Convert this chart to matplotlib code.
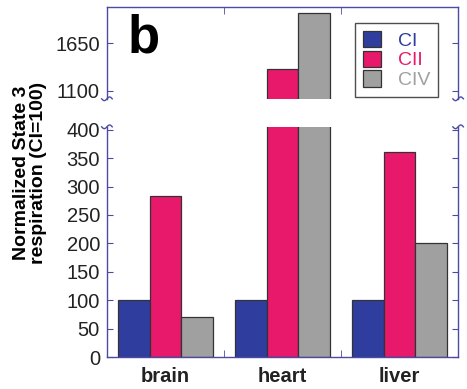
import numpy as np
import matplotlib
matplotlib.use("Agg")
import matplotlib.pyplot as plt

plt.rcParams['font.family'] = ['Liberation Sans', 'DejaVu Sans']

tissues = ['brain', 'heart', 'liver']
series = ['CI', 'CII', 'CIV']
ci = [100, 100, 100]
cii = [283, 1350, 360]
civ = [70, 2000, 200]
colors = ['#2f3e9e', '#e8196b', '#a0a0a0']
low_ticks = [0, 50, 100, 150, 200, 250, 300, 350, 400]
high_ticks = [1100, 1650]

spine_col = '#4b4ba6'

fig = plt.figure(figsize=(4.67, 3.89), dpi=100)
ax_lo = fig.add_axes([0.229, 0.082, 0.752, 0.592])
ax_hi = fig.add_axes([0.229, 0.746, 0.752, 0.236])

x = np.arange(len(tissues))
w = 0.27
for ax in (ax_lo, ax_hi):
    for i, (vals, c) in enumerate(zip([ci, cii, civ], colors)):
        ax.bar(x + (i - 1) * w, vals, w, color=c, edgecolor='#333333',
               linewidth=0.9, label=series[i])
    ax.set_xlim(-0.5, 2.5)
    for s in ax.spines.values():
        s.set_color(spine_col)
        s.set_linewidth(1.0)
    ax.tick_params(direction='in', length=4, color=spine_col, labelsize=14.5,
                   labelcolor='#222222', right=True, top=False, pad=5)
    ax.set_xticks([0.5, 1.5], minor=True)
    ax.tick_params(axis='x', which='minor', direction='in', length=5,
                   color=spine_col)
    ax.tick_params(axis='x', which='major', length=0)

ax_lo.set_ylim(0, 405)
ax_lo.set_yticks(low_ticks)
ax_lo.spines['top'].set_visible(False)
ax_lo.set_xticks(x)
ax_lo.set_xticklabels(tissues, fontsize=14.5, fontweight='bold')
ax_lo.tick_params(axis='x', which='major', pad=7)
ax_lo.tick_params(axis='x', which='minor', top=False, bottom=True)

ax_hi.set_ylim(1005, 2070)
ax_hi.set_yticks(high_ticks)
ax_hi.spines['bottom'].set_visible(False)
ax_hi.set_xticks([])
ax_hi.set_xticks([0.5, 1.5], minor=True)
ax_hi.tick_params(axis='x', which='minor', top=True, bottom=False,
                  direction='in', length=5, color=spine_col)

# break wiggles
t = np.linspace(0, 1, 30)
wx = 0.03 * (t - 0.5)
wy = np.sin(2 * np.pi * t)
for xs in (0, 1):
    ax_hi.plot(xs + wx, 0.0 - 0.02 * wy, color=spine_col,
               lw=1, transform=ax_hi.transAxes, clip_on=False)
    ax_lo.plot(xs + wx, 1.0 - 0.008 * wy, color=spine_col,
               lw=1, transform=ax_lo.transAxes, clip_on=False)

ax_hi.text(0.06, 0.93, 'b', transform=ax_hi.transAxes, fontsize=38,
           fontweight='bold', va='top', ha='left')

leg = ax_hi.legend(loc='upper left', bbox_to_anchor=(0.68, 0.93), fontsize=14,
                   frameon=True, fancybox=False, edgecolor='#222222',
                   handlelength=0.9, handleheight=0.9, handletextpad=0.9,
                   labelspacing=0.05, borderpad=0.4)
leg.get_frame().set_linewidth(1.0)
for txt, c in zip(leg.get_texts(), colors):
    txt.set_color(c)
leg.set_zorder(10)

fig.text(0.064, 0.555, 'Normalized State 3\nrespiration (CI=100)', rotation=90,
         ha='center', va='center', fontsize=14, fontweight='bold',
         linespacing=1.0)

fig.savefig('out.png', dpi=100)
